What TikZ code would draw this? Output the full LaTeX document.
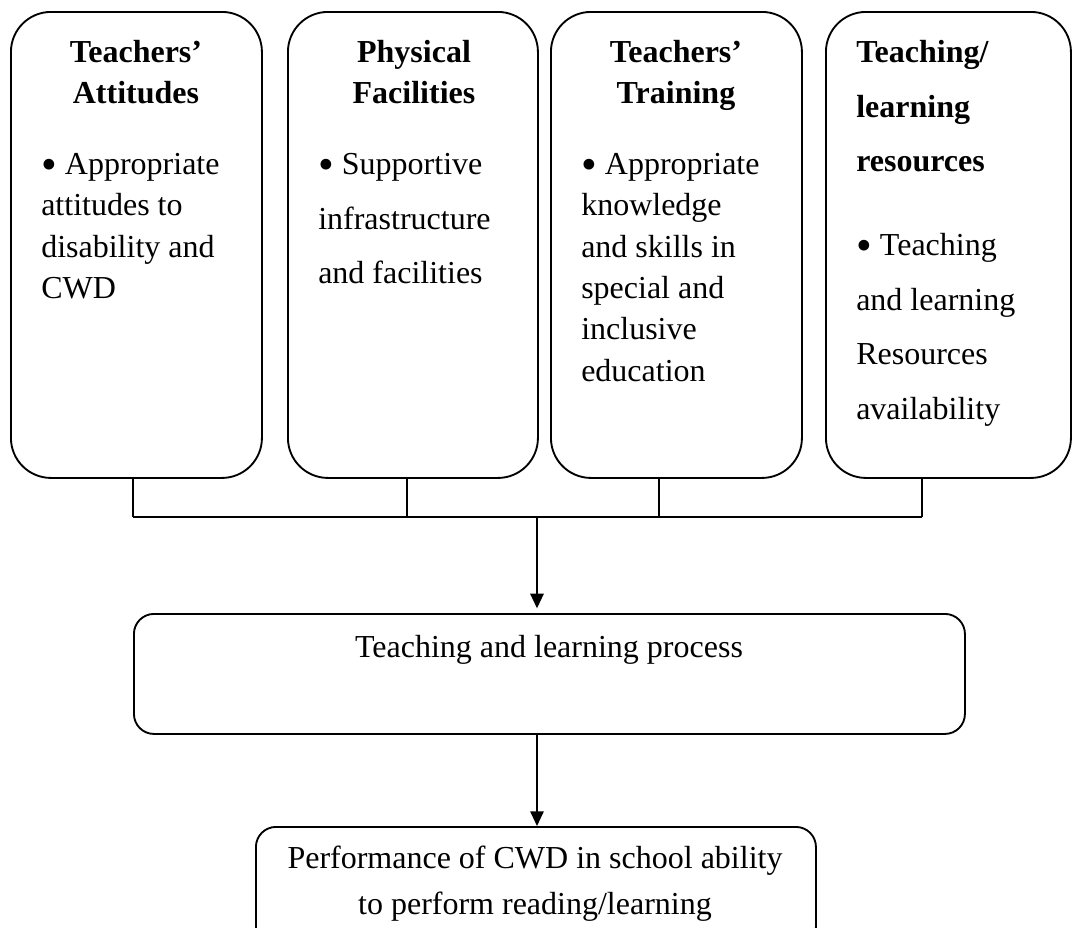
\documentclass[tikz,border=0pt]{standalone}
\usepackage{fontspec}
\setmainfont{Liberation Serif}
\usetikzlibrary{arrows.meta, positioning}
\newcommand{\bul}{\raisebox{-4pt}{\scalebox{1.4}{\textbullet}}}

\begin{document}
\begin{tikzpicture}[
    x=0.75pt, y=-0.75pt,
    card/.style={draw, line width=1.4pt, rounded corners=30pt, anchor=north west, minimum height=349.5pt, inner sep=0pt},
    flow/.style={draw, line width=1.4pt, rounded corners=15pt, anchor=north west, minimum height=90pt, inner sep=0pt},
    head/.style={font=\fontsize{24}{31}\selectfont\bfseries, align=center, inner sep=0pt, anchor=north},
    item/.style={font=\fontsize{24}{31}\selectfont, align=left, inner sep=0pt, anchor=north west},
    wide/.style={font=\fontsize{24}{41}\selectfont},
    arr/.style={-{Triangle[length=11pt, width=10pt]}, line width=1.4pt},
    link/.style={line width=1.4pt}
]
\clip (0,0) rectangle (1072,928);

% factor boxes
\node[card, minimum width=188.25pt] (att) at (10,11) {};
\node[card, minimum width=187.5pt] (phys) at (287,11) {};
\node[card, minimum width=188.25pt] (train) at (550,11) {};
\node[card, minimum width=183.75pt] (res) at (825,11) {};

\node[head] (attH) at (136,40) {Teachers'\\Attitudes};
\node[item] (attB) at (41,153) {\bul\ Appropriate\\attitudes to\\disability and\\CWD};

\node[head] (physH) at (414,40) {Physical\\Facilities};
\node[item, wide] (physB) at (318,153) {\bul\ Supportive\\infrastructure\\and facilities};

\node[head] (trainH) at (676,40) {Teachers'\\Training};
\node[item] (trainB) at (581,153) {\bul\ Appropriate\\knowledge\\and skills in\\special and\\inclusive\\education};

\node[head, align=left, anchor=north west, font=\fontsize{24}{41}\selectfont\bfseries] (resH) at (856,40) {Teaching/\\learning\\resources};
\node[item, wide] (resB) at (856,233) {\bul\ Teaching\\and learning\\Resources\\availability};

% process and outcome
\node[flow, minimum width=623.25pt] (proc) at (133,613) {};
\node[item, anchor=north] (procT) at (549,635) {Teaching and learning process};

\node[flow, minimum width=420pt] (perf) at (255,826) {};
\node[item, align=center, anchor=north, font=\fontsize{24}{34}\selectfont] (perfT) at (535,846) {Performance of CWD in school ability\\to perform reading/learning};

% joining lines
\coordinate (j1) at (133,517);
\coordinate (j2) at (407,517);
\coordinate (j3) at (659,517);
\coordinate (j4) at (922,517);
\coordinate (hub) at (537,517);

\draw[link] (att.south -| j1) -- (j1);
\draw[link] (phys.south -| j2) -- (j2);
\draw[link] (train.south -| j3) -- (j3);
\draw[link] (res.south -| j4) -- (j4);
\draw[link] (j1) -- (j4);

\draw[arr, shorten >=3.5pt] (hub) -- (proc.north -| hub);
\draw[arr] (proc.south -| hub) -- (perf.north -| hub);
\end{tikzpicture}
\end{document}
